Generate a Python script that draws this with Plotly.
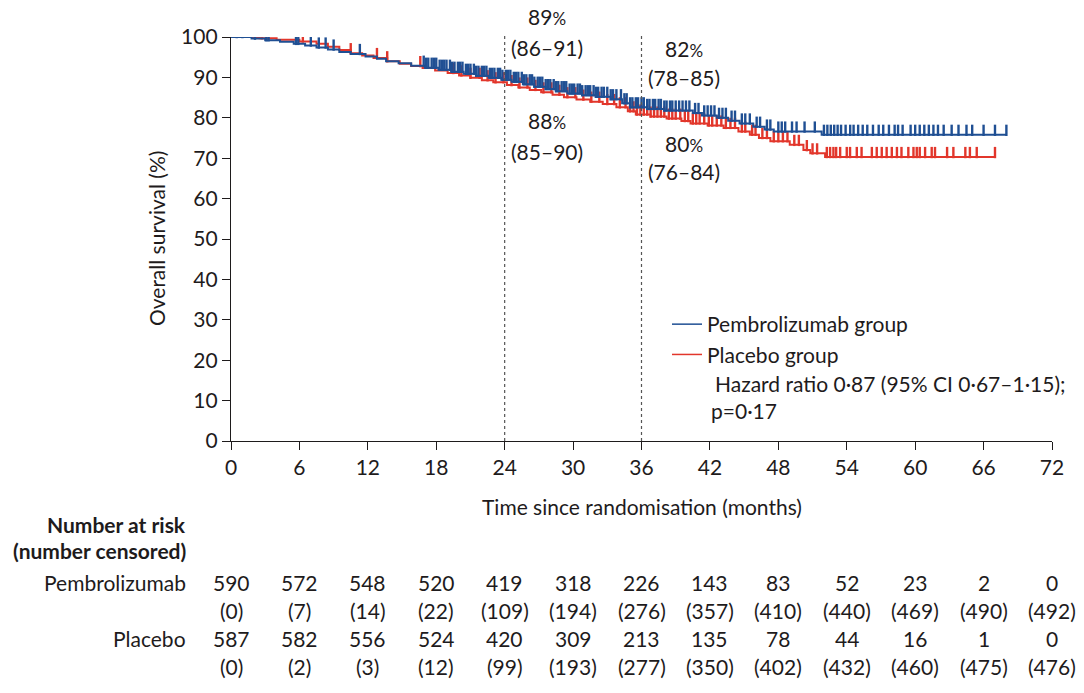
import numpy as np
import plotly.graph_objects as go

# Kaplan-Meier step estimates (months, % alive) for each arm
pembro_times = [0, 1.8, 3.0, 4.3, 5.5, 6.5, 7.5, 8.5, 9.5, 10.5, 11.8, 12.8, 13.6, 14.7,
                15.8, 17.0, 18.2, 19.3, 20.4, 21.5, 22.6, 23.7, 24.6, 25.6, 26.6, 27.6,
                28.5, 29.5, 30.8, 32.0, 33.3, 34.3, 35.0, 36.5, 38.0, 40.5, 41.3, 42.6,
                43.6, 44.6, 45.8, 46.8, 47.6, 51.8]
pembro_surv = [100, 99.6, 99.2, 98.8, 98.3, 97.9, 97.4, 96.9, 96.3, 95.8, 95.2, 94.6, 94.0,
               93.5, 92.9, 92.4, 91.9, 91.4, 90.9, 90.4, 89.9, 89.4, 88.9, 88.3, 87.7, 87.1,
               86.6, 86.0, 85.6, 85.2, 84.6, 83.6, 82.6, 82.2, 81.8, 81.2, 80.6, 80.0,
               79.3, 78.6, 77.8, 77.1, 76.6, 75.8]
pembro_end = 68.0

placebo_times = [0, 2.5, 4.0, 6.0, 7.5, 8.5, 9.5, 10.5, 11.5, 12.5, 13.7, 14.8, 15.8, 16.8,
                 17.9, 19.0, 20.0, 21.0, 22.0, 23.0, 24.2, 25.2, 26.2, 27.2, 28.2, 29.2,
                 30.3, 31.5, 32.6, 33.8, 34.8, 35.5, 36.8, 38.2, 39.5, 40.3, 41.8, 43.2,
                 44.5, 45.5, 46.3, 47.3, 49.0, 50.2, 50.8, 52.1]
placebo_surv = [100, 99.7, 99.3, 98.9, 98.3, 97.6, 96.8, 96.0, 95.4, 94.8, 94.0, 93.4, 92.8,
                92.3, 91.7, 91.1, 90.5, 89.9, 89.3, 88.8, 88.1, 87.5, 86.9, 86.3, 85.7, 85.1,
                84.5, 84.0, 83.4, 82.6, 81.6, 80.8, 80.3, 79.8, 79.2, 78.6, 78.1, 77.5,
                76.6, 75.8, 75.0, 74.2, 73.3, 72.0, 71.2, 70.3]
placebo_end = 67.0

# Censoring times (months)
pembro_censored = [0.5, 1.0, 2.1, 3.1, 3.3, 5.7, 5.9, 7.0, 7.7, 8.3, 9.0, 11.3,
                   16.9, 17.1, 17.3, 17.6, 17.8, 18.0, 18.3, 18.5, 18.7, 18.9, 19.2, 19.4,
                   19.6, 19.9, 20.1, 20.3, 20.6, 20.8, 21.0, 21.3, 21.5, 21.7, 22.0, 22.2,
                   22.4, 22.7, 22.9, 23.1, 23.4, 23.6, 23.8, 24.1, 24.3, 24.5, 24.8, 25.0,
                   25.2, 25.5, 25.7, 25.9, 26.2, 26.4, 26.6, 26.9, 27.1, 27.3, 27.6, 27.8,
                   28.0, 28.3, 28.5, 28.7, 29.0, 29.2, 29.4, 29.7, 29.9, 30.1, 30.4, 30.6,
                   30.8, 31.1, 31.3, 31.5, 31.8, 32.0, 32.2, 32.5, 32.7, 33.0, 33.3, 33.5,
                   33.8, 34.2, 34.5, 34.7, 35.0, 35.2, 35.5, 35.7, 36.0, 36.2, 36.5, 36.7,
                   37.0, 37.2, 37.5, 37.7, 38.0, 38.2, 38.5, 38.7, 39.0, 39.3, 39.6, 39.9,
                   40.2, 40.7, 41.0, 41.5, 41.8, 42.1, 42.4, 42.8, 43.1, 43.4, 43.9, 44.2,
                   44.8, 45.1, 45.5, 46.1, 46.4, 47.0, 47.3, 48.0, 48.3, 48.6, 49.2, 49.6,
                   50.3, 51.2, 52.0, 52.3, 52.6, 52.9, 53.2, 53.5, 53.9, 54.3, 54.6, 55.0,
                   55.4, 55.8, 56.3, 56.8, 57.2, 57.7, 58.2, 58.5, 58.9, 59.6, 60.0, 60.4,
                   60.8, 61.2, 61.6, 62.0, 62.5, 63.2, 63.8, 64.5, 65.0, 66.0, 67.0, 68.0]
placebo_censored = [2.7, 6.3, 10.5, 12.8, 13.7, 16.6, 19.5, 20.2, 21.0, 21.8, 22.5, 23.2,
                    23.9, 24.6, 25.3, 26.0, 26.7, 27.4, 28.1, 28.8, 29.5, 30.2, 30.9, 31.6,
                    32.3, 33.0, 33.6, 34.1, 34.6, 35.0, 35.3, 35.6, 35.9, 36.2, 36.5, 36.8,
                    37.1, 37.4, 37.7, 38.0, 38.4, 38.7, 39.0, 39.4, 39.8, 40.1, 40.5, 40.8,
                    41.1, 41.5, 41.9, 42.2, 42.6, 43.0, 43.4, 43.8, 44.2, 44.8, 45.1, 45.7,
                    46.0, 46.6, 47.0, 47.6, 48.0, 48.4, 48.8, 49.4, 49.8, 50.5, 51.0, 51.4,
                    52.25, 52.54, 52.83, 53.07, 53.42, 54.0, 54.29, 54.88, 55.3, 56.2, 56.63,
                    57.07, 57.5, 57.95, 58.4, 58.8, 59.4, 59.85, 60.14, 60.4, 60.87, 61.45,
                    61.74, 62.8, 63.35, 64.4, 64.8, 65.4, 67.0]

# Landmark estimates
landmark_months = [24, 36]
pembro_landmark = ["89%", "82%"]
pembro_landmark_ci = ["(86–91)", "(78–85)"]
placebo_landmark = ["88%", "80%"]
placebo_landmark_ci = ["(85–90)", "(76–84)"]

# Number at risk table
risk_months = [0, 6, 12, 18, 24, 30, 36, 42, 48, 54, 60, 66, 72]
pembro_at_risk = [590, 572, 548, 520, 419, 318, 226, 143, 83, 52, 23, 2, 0]
pembro_cum_censored = [0, 7, 14, 22, 109, 194, 276, 357, 410, 440, 469, 490, 492]
placebo_at_risk = [587, 582, 556, 524, 420, 309, 213, 135, 78, 44, 16, 1, 0]
placebo_cum_censored = [0, 2, 3, 12, 99, 193, 277, 350, 402, 432, 460, 475, 476]

BLUE = "#1f4f93"
RED = "#e2362b"
INK = "#1e1b1c"
FONT = "Lato"
FS = 21

W, H = 1084, 693
L, R, T, B = 231, 32, 37, 252
PLOT_H = H - T - B


def py(pixel_y):
    """Convert a page pixel row to a paper y coordinate."""
    return (H - B - pixel_y) / PLOT_H


def px(pixel_x):
    return (pixel_x - L) / (W - L - R)


def step_value(times, surv, t):
    idx = np.searchsorted(np.asarray(times), t, side="right") - 1
    return surv[idx]


def censor_segments(times, surv, cens):
    xs, ys = [], []
    for t in cens:
        s = step_value(times, surv, t)
        xs += [t, t, None]
        ys += [s - 0.3, s + 2.5, None]
    return xs, ys


fig = go.Figure()

for times, surv, end, cens, color, name in [
    (placebo_times, placebo_surv, placebo_end, placebo_censored, RED, "Placebo group"),
    (pembro_times, pembro_surv, pembro_end, pembro_censored, BLUE, "Pembrolizumab group"),
]:
    fig.add_trace(go.Scatter(
        x=list(times) + [end], y=list(surv) + [surv[-1]],
        mode="lines", line=dict(color=color, width=2.0, shape="hv"),
        name=name, showlegend=False, hoverinfo="skip",
    ))
    cx, cy = censor_segments(times, surv, cens)
    fig.add_trace(go.Scatter(
        x=cx, y=cy, mode="lines", line=dict(color=color, width=2.4),
        showlegend=False, hoverinfo="skip",
    ))

# Legend entries (drawn in a fixed order)
for color, name in [(BLUE, "Pembrolizumab group"), (RED, "Placebo group")]:
    fig.add_trace(go.Scatter(
        x=[None], y=[None], mode="lines", line=dict(color=color, width=1.5),
        name=name, showlegend=True,
    ))

# Landmark reference lines
for m in landmark_months:
    fig.add_shape(type="line", xref="x", yref="paper", x0=m, x1=m, y0=0, y1=py(35),
                  line=dict(color="#555555", width=1.2, dash="3px,3px"))

annotations = []


def pct_html(label):
    return label.replace("%", "<span style='font-size:17px'>%</span>")


for m, p_lab, p_ci, q_lab, q_ci in zip(landmark_months, pembro_landmark, pembro_landmark_ci,
                                       placebo_landmark, placebo_landmark_ci):
    offset = 3.7
    top_rows = (17, 47) if m == 24 else (48, 77)
    bot_rows = (121, 151) if m == 24 else (143, 172)
    for text, row in [(pct_html(p_lab), top_rows[0]), (p_ci, top_rows[1]),
                      (pct_html(q_lab), bot_rows[0]), (q_ci, bot_rows[1])]:
        annotations.append(dict(x=m + offset, y=py(row), xref="x", yref="paper", text=text,
                                showarrow=False, xanchor="center", yanchor="middle",
                                font=dict(family=FONT, size=FS, color=INK)))

annotations.append(dict(x=px(713), y=py(383), xref="paper", yref="paper",
                        text="Hazard ratio 0·87 (95% CI 0·67–1·15);", showarrow=False,
                        xanchor="left", yanchor="middle",
                        font=dict(family=FONT, size=FS, color=INK)))
annotations.append(dict(x=px(709), y=py(410), xref="paper", yref="paper",
                        text="p=0·17", showarrow=False, xanchor="left", yanchor="middle",
                        font=dict(family=FONT, size=FS, color=INK)))

# Axis titles
annotations.append(dict(x=px(156), y=py(239), xref="paper", yref="paper",
                        text="Overall survival (%)", textangle=-90, showarrow=False,
                        xanchor="center", yanchor="middle",
                        font=dict(family=FONT, size=FS, color=INK)))
annotations.append(dict(x=36, y=py(507), xref="x", yref="paper",
                        text="Time since randomisation (months)", showarrow=False,
                        xanchor="center", yanchor="middle",
                        font=dict(family=FONT, size=FS, color=INK)))

# Number-at-risk table
for text, row in [("<b>Number at risk</b>", 524), ("<b>(number censored)</b>", 550),
                  ("Pembrolizumab", 582), ("Placebo", 638)]:
    annotations.append(dict(x=px(188), y=py(row), xref="paper", yref="paper", text=text,
                            showarrow=False, xanchor="right", yanchor="middle",
                            font=dict(family=FONT, size=FS, color=INK)))

for m, a1, c1, a2, c2 in zip(risk_months, pembro_at_risk, pembro_cum_censored,
                             placebo_at_risk, placebo_cum_censored):
    for text, row in [(str(a1), 582), (f"({c1})", 610), (str(a2), 638), (f"({c2})", 666)]:
        annotations.append(dict(x=m, y=py(row), xref="x", yref="paper", text=text,
                                showarrow=False, xanchor="center", yanchor="middle",
                                font=dict(family=FONT, size=FS, color=INK)))

fig.update_layout(
    width=W, height=H,
    margin=dict(l=L, r=R, t=T, b=B, pad=0),
    paper_bgcolor="white", plot_bgcolor="white",
    font=dict(family=FONT, size=FS, color=INK),
    annotations=annotations,
    legend=dict(x=px(667), y=py(304), xanchor="left", yanchor="top",
                bgcolor="rgba(0,0,0,0)", font=dict(family=FONT, size=FS, color=INK),
                tracegroupgap=0, itemwidth=30),
    xaxis=dict(range=[0, 72], tickvals=risk_months, ticks="outside", ticklen=8,
               tickwidth=1.4, tickcolor=INK, showline=True, linecolor=INK, linewidth=1.4,
               showgrid=False, zeroline=False, tickfont=dict(family=FONT, size=FS, color=INK)),
    yaxis=dict(range=[0, 100], tickvals=list(range(0, 101, 10)), ticks="outside", ticklen=8,
               tickwidth=1.4, tickcolor=INK, showline=True, linecolor=INK, linewidth=1.4,
               showgrid=False, zeroline=False, tickfont=dict(family=FONT, size=FS, color=INK)),
)

fig.write_html("out.html")
